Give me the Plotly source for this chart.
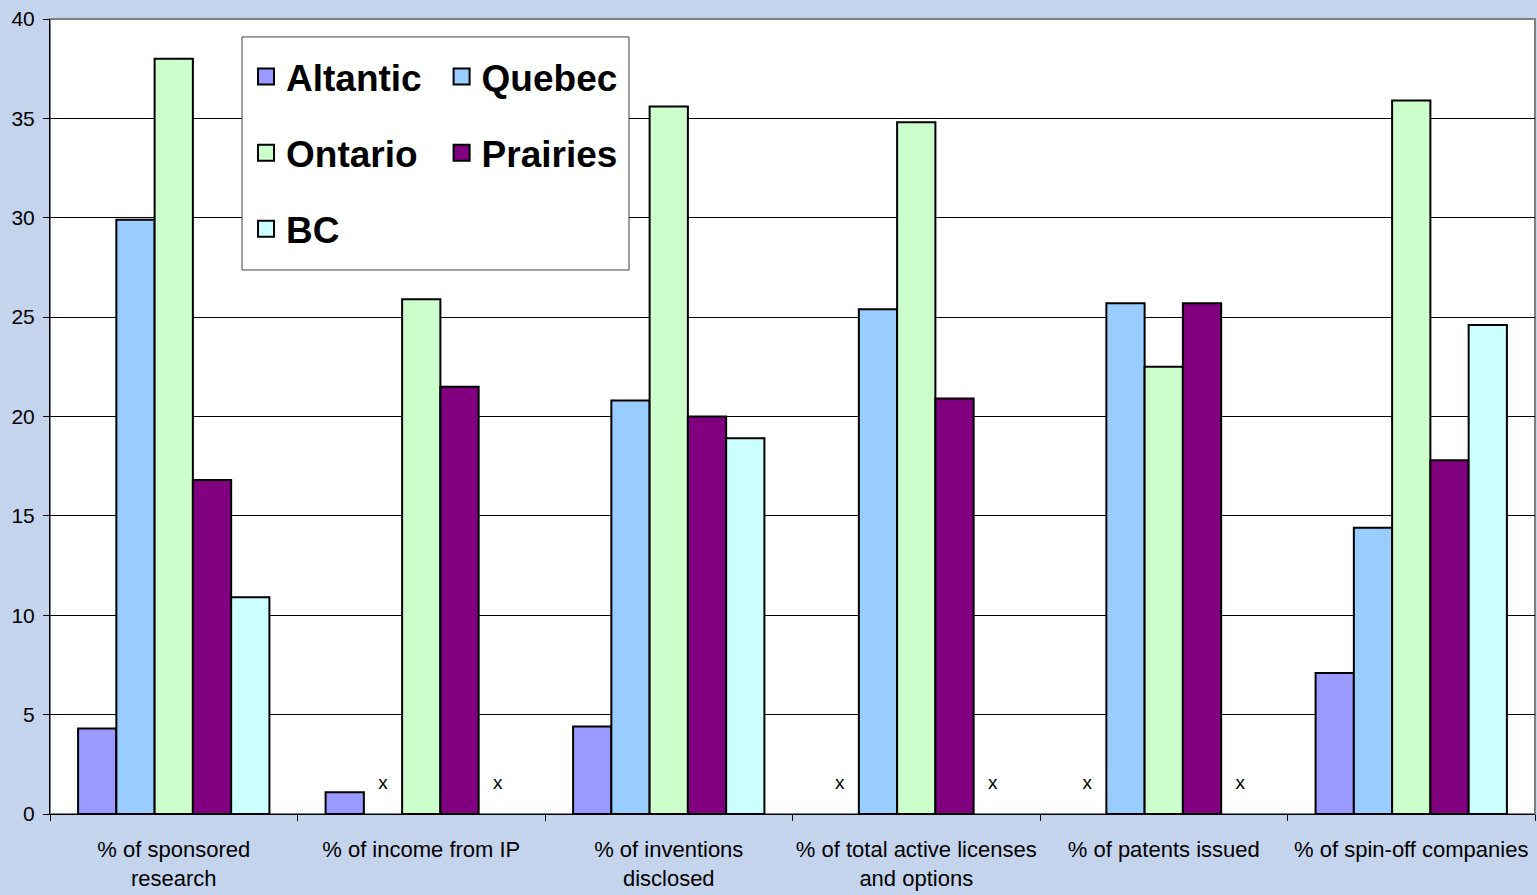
import plotly.graph_objects as go

# Share of each measure by region (%); None = suppressed ("x")
categories = [
    '% of sponsored<br>research',
    '% of income from IP',
    '% of inventions<br>disclosed',
    '% of total active licenses<br>and options',
    '% of patents issued',
    '% of spin-off companies',
]
regions = ['Altantic', 'Quebec', 'Ontario', 'Prairies', 'BC']

altantic = [4.3, 1.1, 4.4, None, None, 7.1]
quebec = [29.9, None, 20.8, 25.4, 25.7, 14.4]
ontario = [38.0, 25.9, 35.6, 34.8, 22.5, 35.9]
prairies = [16.8, 21.5, 20.0, 20.9, 25.7, 17.8]
bc = [10.9, None, 18.9, None, None, 24.6]

series = [altantic, quebec, ontario, prairies, bc]
colors = ['#9999FF', '#99CCFF', '#CCFFCC', '#800080', '#CCFFFF']
legend_of = ['legend', 'legend2', 'legend', 'legend2', 'legend']

MISSING_LABEL_Y = 1.5

fig = go.Figure()

for i, (name, vals, col) in enumerate(zip(regions, series, colors)):
    fig.add_trace(go.Bar(
        x=categories,
        y=vals,
        name=name,
        marker=dict(color=col, line=dict(color='black', width=2)),
        offsetgroup=str(i),
        showlegend=False,
    ))
    # "x" marks where the value is suppressed
    fig.add_trace(go.Scatter(
        x=categories,
        y=[MISSING_LABEL_Y if v is None else None for v in vals],
        mode='text',
        text=['x' if v is None else '' for v in vals],
        textfont=dict(size=19, color='black', family='Liberation Sans, Arial'),
        offsetgroup=str(i),
        showlegend=False,
        hoverinfo='skip',
    ))
    # legend entry with a bigger square swatch
    fig.add_trace(go.Scatter(
        x=[None],
        y=[None],
        mode='markers',
        name=name,
        marker=dict(symbol='square', size=16, color=col,
                    line=dict(color='black', width=2)),
        offsetgroup=str(i),
        legend=legend_of[i],
        legendgroup=name,
    ))

legend_style = dict(
    xanchor='left', yanchor='top', y=0.966,
    bgcolor='rgba(0,0,0,0)', borderwidth=0,
    font=dict(size=37, color='black', family='Liberation Sans, Arial', weight='bold'),
    tracegroupgap=25, itemsizing='trace', traceorder='grouped',
)

fig.update_layout(
    width=1537,
    height=895,
    margin=dict(l=50, r=2, t=19, b=81),
    paper_bgcolor='#C4D4EC',
    plot_bgcolor='white',
    barmode='group',
    bargap=0.227,
    bargroupgap=0,
    scattermode='group',
    scattergap=0.227,
    font=dict(family='Liberation Sans, Arial', color='black'),
    legend=dict(x=0.132, **legend_style),
    legend2=dict(x=0.2637, **legend_style),
    shapes=[dict(
        type='rect', xref='paper', yref='paper',
        x0=0.1293, x1=0.3899, y0=0.6843, y1=0.9774,
        fillcolor='white', line=dict(color='#404040', width=1),
        layer='above',
    ), dict(
        type='rect', xref='paper', yref='paper',
        x0=0, x1=1, y0=0, y1=1,
        line=dict(color='#808080', width=2), layer='below',
    )],
)

fig.update_yaxes(
    range=[0, 40],
    dtick=5,
    showgrid=True,
    gridcolor='black',
    gridwidth=1,
    showline=True,
    linecolor='black',
    linewidth=1,
    ticks='outside',
    ticklen=6,
    tickcolor='black',
    tickfont=dict(size=21),
    ticklabelstandoff=4,
    zeroline=False,
    automargin=False,
)

fig.update_xaxes(
    tickson='boundaries',
    ticks='outside',
    ticklen=6,
    tickcolor='black',
    showline=True,
    linecolor='black',
    linewidth=1,
    tickfont=dict(size=22),
    ticklabelstandoff=16,
    tickangle=0,
    automargin=False,
)

# drop the default page margin so the figure sits at the window corner
fig.write_html("out.html", config={'displayModeBar': False},
               post_script="document.body.style.margin='0px';")
